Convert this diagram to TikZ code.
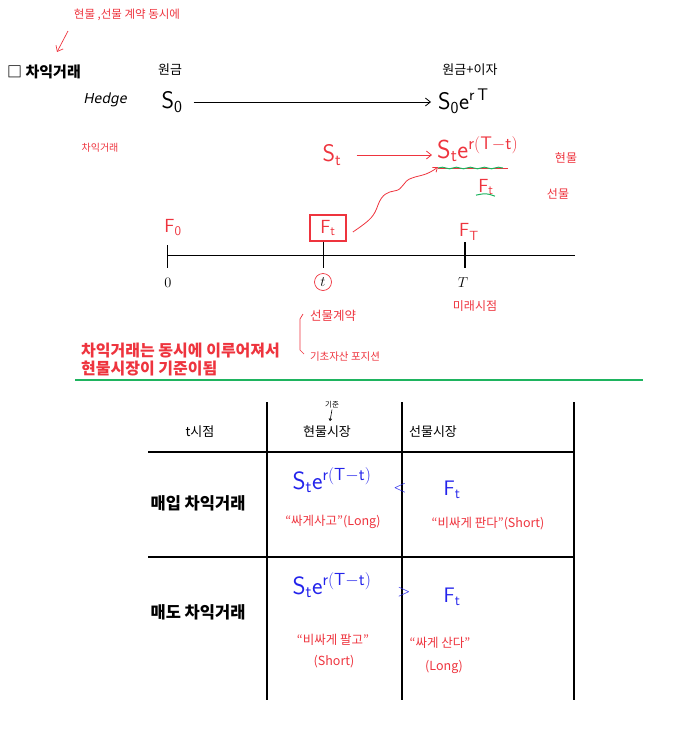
\documentclass[tikz,border=0pt]{standalone}
\usepackage{fontspec}
\setmainfont{Noto Sans CJK KR}
\newfontfamily\handit{Noto Sans}[FakeSlant=0.2]
\usetikzlibrary{arrows.meta,decorations.pathmorphing}
\definecolor{hred}{RGB}{238,52,62}
\definecolor{hgreen}{RGB}{30,180,95}
\definecolor{hblue}{RGB}{35,35,235}
\newcommand\fsz[1]{\fontsize{#1}{#1}\selectfont}
\tikzset{
  lbl/.style={inner sep=1pt},
  rtxt/.style={lbl,text=hred,font=\fsz{12}},
  ktxt/.style={lbl,font=\fsz{13}},
  bigm/.style={lbl,font=\fsz{24}},
  tline/.style={line width=2.6pt},
  barb/.style={-{Straight Barb[length=5pt,width=8pt]}},
}
\begin{document}
\begin{tikzpicture}[x=1pt,y=-1pt]
\useasboundingbox (0,0) rectangle (679,742);
% top annotation
\node[rtxt,font=\fsz{11.5}] (ann) at (127,15) {현물 ,선물 계약 동시에};
\coordinate (annS) at (68,31);
\coordinate (annE) at (57,52);
\draw[hred,barb,line width=0.7pt] (annS) -- (annE);
\node[lbl,font=\bfseries\fsz{15},anchor=west] (title) at (6,72) {□ 차익거래};
% principal line
\node[ktxt] (won) at (170,70) {원금};
\node[ktxt] (wonija) at (470,70) {원금+이자};
\node[lbl,font=\handit\fsz{14}] (hedge) at (105,100) {Hedge};
\node[bigm] (S0) at (172,102) {$\mathsf{S_0}$};
\node[bigm,anchor=west] (S0e) at (437,101) {$\mathsf{S_0e^{r\,T}}$};
\coordinate (S0a) at ([xshift=10pt]S0.east);
\draw[barb,line width=0.8pt] (S0a) -- ([xshift=-6pt]S0e.west |- S0a);
% red spot
\node[rtxt,font=\fsz{10}] (cha2) at (100,148) {차익거래};
\node[bigm,text=hred] (St) at (332,155) {$\mathsf{S_t}$};
\node[bigm,text=hred,anchor=west,font=\fsz{26}] (Ste) at (436,149) {$\mathsf{S_te^{r(T-t)}}$};
\coordinate (Sta) at ([xshift=14pt]St.east);
\draw[hred,barb,line width=0.8pt] (Sta) -- ([xshift=-4pt]Ste.west |- Sta);
\coordinate (ulA) at (438,168);
\coordinate (ulB) at (508,168);
\draw[hred,line width=0.8pt] (ulA) -- (ulB);
\draw[hgreen,line width=1pt,decorate,decoration={snake,amplitude=0.8pt,segment length=14pt}] (ulA) -- ([xshift=-5pt]ulB);
\node[rtxt] (hyun) at (566,158) {현물};
\node[rtxt] (sun) at (558,194) {선물};
\node[lbl,text=hred,font=\fsz{19}] (Ftg) at (486,187) {$\mathsf{F_t}$};
\draw[hgreen,line width=1pt] ([xshift=-10pt,yshift=1pt]Ftg.south) .. controls ([yshift=3pt]Ftg.south) .. ([xshift=9pt,yshift=0pt]Ftg.south);
% timeline
\node[draw=hred,line width=1.8pt,minimum width=36pt,minimum height=26pt,text=hred,font=\fsz{19},inner sep=0pt] (Fbox) at (328,228) {$\mathsf{F_t}$};
\draw[hred,line width=0.8pt,-{Straight Barb[length=4pt,width=6pt]}] ([xshift=6pt,yshift=-4pt]Fbox.east) .. controls (372,219) and (374,216) .. (378,205) .. controls (382,194) and (388,192) .. (394,191) .. controls (404,190) and (402,181) .. (412,178) .. controls (420,175) and (426,176) .. ([yshift=1pt]ulA);
\coordinate (tl0) at (167,255);
\coordinate (tl1) at (575,255);
\draw[line width=0.8pt] (tl0) -- (tl1);
\coordinate (tk0a) at (167,245); \coordinate (tk0b) at (167,268);
\coordinate (tkta) at (Fbox.south); \coordinate (tktb) at (323,268);
\coordinate (tkTa) at (465,242); \coordinate (tkTb) at (465,268);
\draw[line width=0.8pt] (tk0a) -- (tk0b);
\draw[line width=0.8pt] (tktb |- tkta) -- (tktb);
\draw[line width=1.2pt] (tkTa) -- (tkTb);
\node[lbl,text=hred,font=\fsz{19}] (F0) at (173,228) {$\mathsf{F_0}$};
\node[lbl,text=hred,font=\fsz{19}] (FT) at (469,232) {$\mathsf{F_T}$};
\node[lbl,font=\fsz{15}] (z0) at (168,283) {$0$};
\node[draw=hred,circle,inner sep=0pt,minimum size=17pt,line width=0.7pt,font=\fsz{15}] (tc) at (323,282) {$t$};
\node[lbl,font=\fsz{15}] (zT) at (463,283) {$T$};
\node[rtxt,font=\fsz{12.5}] (sgy) at (333,316) {선물계약};
\node[rtxt] (mrs) at (475,306) {미래시점};
\node[rtxt,font=\fsz{10.5}] (gcp) at (345,357) {기초자산 포지션};
\coordinate (brA) at (303,314); \coordinate (brB) at (300,319);
\coordinate (brC) at (300,350); \coordinate (brD) at (304,354);
\draw[hred,line width=0.7pt] (brA) -- (brB) -- (brC) -- (brD);
\node[lbl,text=hred,font=\bfseries\fontsize{16}{18}\selectfont,align=left,anchor=north west] (concl) at (80,342) {차익거래는 동시에 이루어져서\\현물시장이 기준이됨};
\coordinate (gl0) at (75,380); \coordinate (gl1) at (643,380);
\draw[hgreen,line width=2.6pt] (gl0) -- (gl1);
% table
\coordinate (v1a) at (267,402); \coordinate (v1b) at (267,700);
\coordinate (v2a) at (402,402); \coordinate (v2b) at (402,700);
\coordinate (v3a) at (574,402); \coordinate (v3b) at (574,700);
\coordinate (h1a) at (148,452); \coordinate (h1b) at (574,452);
\coordinate (h2a) at (148,557); \coordinate (h2b) at (574,557);
\draw[tline] (v1a) -- (v1b) (v2a) -- (v2b) (v3a) -- (v3b);
\draw[tline] (h1a) -- (h1b) (h2a) -- (h2b);
\node[ktxt] (tsj) at (200,432) {t시점};
\node[ktxt] (hms) at (327,432) {현물시장};
\node[ktxt] (sms) at (433,432) {선물시장};
\node[lbl,font=\fsz{7.5}] (gj) at (332,405) {기준};
\coordinate (gjE) at (330,421);
\draw[line width=0.6pt,-{Straight Barb[length=2pt,width=3pt]}] (gj.south) -- (gjE);
\node[lbl,font=\bfseries\fsz{16.5}] (row1) at (198,503) {매입 차익거래};
\node[lbl,font=\bfseries\fsz{16.5}] (row2) at (198,612) {매도 차익거래};
\node[bigm,text=hblue,font=\fsz{25}] (b1) at (332,480) {$\mathsf{S_te^{r(T-t)}}$};
\node[lbl,text=hblue,font=\fsz{18}] (lt) at (400,488) {$<$};
\node[lbl,text=hblue,font=\fsz{21}] (bF1) at (452,490) {$\mathsf{F_t}$};
\node[rtxt,font=\fsz{12.5}] (r1a) at (333,522) {“싸게사고”(Long)};
\node[rtxt,font=\fsz{12.5}] (r1b) at (488,524) {“비싸게 판다”(Short)};
\node[bigm,text=hblue,font=\fsz{25}] (b2) at (332,585) {$\mathsf{S_te^{r(T-t)}}$};
\node[lbl,text=hblue,font=\fsz{18}] (gt) at (404,592) {$>$};
\node[lbl,text=hblue,font=\fsz{21}] (bF2) at (452,597) {$\mathsf{F_t}$};
\node[rtxt,font=\fsz{12.5}] (r2a) at (333,640) {“비싸게 팔고”};
\node[rtxt,font=\fsz{12.5}] (r2b) at (334,662) {(Short)};
\node[rtxt,font=\fsz{12.5}] (r2c) at (440,643) {“싸게 산다”};
\node[rtxt,font=\fsz{12.5}] (r2d) at (444,667) {(Long)};
\end{tikzpicture}
\end{document}
